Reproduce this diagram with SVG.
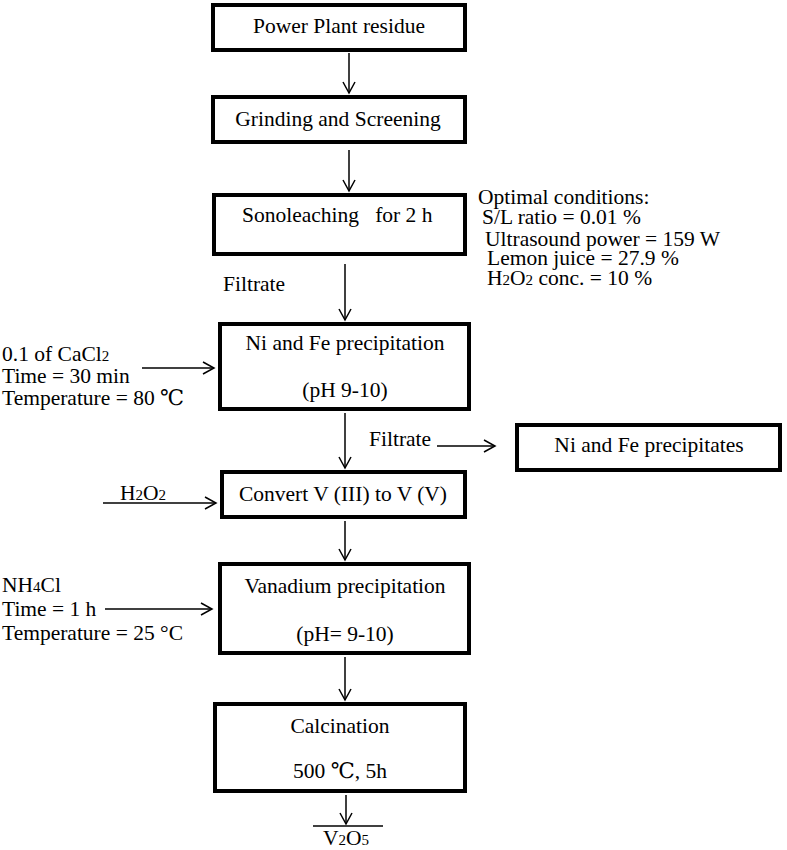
<svg xmlns="http://www.w3.org/2000/svg" width="787" height="850" viewBox="0 0 787 850">
<defs>
<marker id="ah" markerUnits="userSpaceOnUse" markerWidth="14" markerHeight="14" refX="12" refY="7" orient="auto" viewBox="0 0 14 14">
<path d="M1,1 L12,7 L1,13" fill="none" stroke="#000" stroke-width="1.5"/>
</marker>
</defs>
<style>
.box{fill:#fff;stroke:#000;stroke-width:4}
.t{font-family:"Liberation Serif","DejaVu Serif",serif;font-size:21.5px;fill:#000}
.m{text-anchor:middle}
.s{font-size:15px}
.ln{stroke:#000;stroke-width:1.5;fill:none}
</style>
<rect width="787" height="850" fill="#fff"/>
<g id="connectors">
<line class="ln" x1="349" y1="53" x2="349" y2="93" marker-end="url(#ah)"/>
<line class="ln" x1="349" y1="150" x2="349" y2="191" marker-end="url(#ah)"/>
<line class="ln" x1="345" y1="264" x2="345" y2="320" marker-end="url(#ah)"/>
<line class="ln" x1="345" y1="413" x2="345" y2="468" marker-end="url(#ah)"/>
<line class="ln" x1="345" y1="521" x2="345" y2="560" marker-end="url(#ah)"/>
<line class="ln" x1="345" y1="657" x2="345" y2="700" marker-end="url(#ah)"/>
<line class="ln" x1="346" y1="795" x2="346" y2="824" marker-end="url(#ah)"/>
<line class="ln" x1="142" y1="368" x2="214" y2="368" marker-end="url(#ah)"/>
<line class="ln" x1="103" y1="503" x2="216" y2="503" marker-end="url(#ah)"/>
<line class="ln" x1="105" y1="609" x2="212" y2="609" marker-end="url(#ah)"/>
<line class="ln" x1="437" y1="446" x2="495" y2="446" marker-end="url(#ah)"/>
<line class="ln" x1="313" y1="826" x2="383" y2="826"/>
</g>
<g id="n1"><rect class="box" x="213" y="5" width="252" height="45"/><text class="t m" x="339" y="33">Power Plant residue</text></g>
<g id="n2"><rect class="box" x="213" y="97" width="252" height="45"/><text class="t m" x="338" y="126">Grinding and Screening</text></g>
<g id="n3"><rect class="box" x="214" y="195" width="251" height="59"/><text class="t" x="242" y="222" xml:space="preserve">Sonoleaching   for 2 h</text></g>
<g id="n4"><rect class="box" x="220" y="324" width="249" height="85"/><text class="t m" x="345" y="350">Ni and Fe precipitation</text><text class="t m" x="345" y="397">(pH 9-10)</text></g>
<g id="n5"><rect class="box" x="222" y="472" width="243" height="45"/><text class="t m" x="343" y="501">Convert V (III) to V (V)</text></g>
<g id="n6"><rect class="box" x="220" y="564" width="249" height="89"/><text class="t m" x="345" y="593">Vanadium precipitation</text><text class="t m" x="345" y="641">(pH= 9-10)</text></g>
<g id="n7"><rect class="box" x="215" y="704" width="250" height="87"/><text class="t m" x="340" y="733">Calcination</text><text class="t m" x="340" y="778">500 ℃, 5h</text></g>
<g id="n8"><rect class="box" x="517" y="425" width="263" height="45"/><text class="t m" x="649" y="452">Ni and Fe precipitates</text></g>
<g id="labels">
<text class="t" x="478" y="204">Optimal conditions:</text>
<text class="t" x="482" y="224">S/L ratio = 0.01 %</text>
<text class="t" x="485" y="246">Ultrasound power = 159 W</text>
<text class="t" x="487" y="265">Lemon juice = 27.9 %</text>
<text class="t" x="487" y="285">H<tspan class="s">2</tspan>O<tspan class="s">2</tspan> conc. = 10 %</text>
<text class="t" x="223" y="291">Filtrate</text>
<text class="t" x="2" y="361">0.1 of CaCl<tspan class="s">2</tspan></text>
<text class="t" x="2" y="383">Time = 30 min</text>
<text class="t" x="2" y="405">Temperature = 80 ℃</text>
<text class="t" x="369" y="446">Filtrate</text>
<text class="t" x="120" y="500">H<tspan class="s">2</tspan>O<tspan class="s">2</tspan></text>
<text class="t" x="2" y="592">NH<tspan class="s">4</tspan>Cl</text>
<text class="t" x="2" y="616">Time = 1 h</text>
<text class="t" x="2" y="640">Temperature = 25 °C</text>
<text class="t" x="323" y="845">V<tspan class="s">2</tspan>O<tspan class="s">5</tspan></text>
</g>
</svg>
